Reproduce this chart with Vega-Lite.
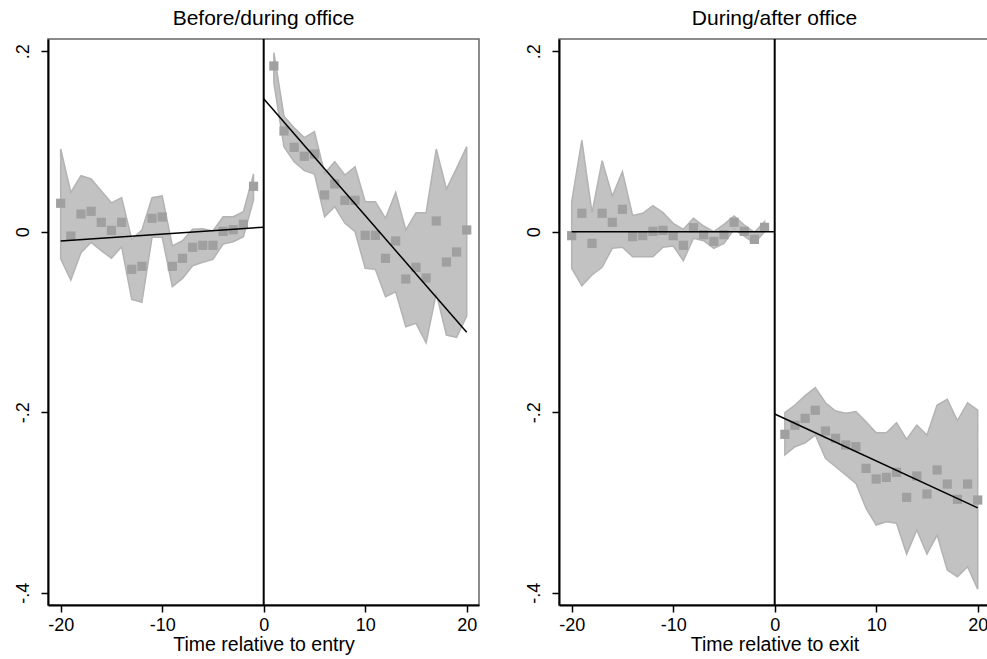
{
  "$schema": "https://vega.github.io/schema/vega-lite/v6.json",
  "padding": {"left": 13, "top": 7, "right": 0, "bottom": 0},
  "background": "white",
  "spacing": 44,
  "config": {
    "font": "Liberation Sans",
    "view": {"stroke": "#666666", "strokeWidth": 1.5},
    "title": {"font": "Liberation Sans", "fontSize": 21, "fontWeight": "normal", "color": "black", "anchor": "middle", "baseline": "alphabetic", "offset": 9},
    "axis": {
      "grid": false,
      "domainColor": "black",
      "domainWidth": 2,
      "tickColor": "black",
      "tickWidth": 1.5,
      "tickSize": 7,
      "labelFont": "Liberation Sans",
      "labelFontSize": 18,
      "labelColor": "black",
      "labelOverlap": false,
      "labelFlush": false,
      "titleFont": "Liberation Sans",
      "titleFontSize": 19.5,
      "titleFontWeight": "normal",
      "titleColor": "black"
    }
  },
  "datasets": {
    "entry": [
      {"seg": "pre", "x": -20, "est": 0.0315, "lo": -0.0302, "hi": 0.0916},
      {"seg": "pre", "x": -19, "est": -0.0048, "lo": -0.0535, "hi": 0.0436},
      {"seg": "pre", "x": -18, "est": 0.0196, "lo": -0.0232, "hi": 0.062},
      {"seg": "pre", "x": -17, "est": 0.0226, "lo": -0.0118, "hi": 0.0584},
      {"seg": "pre", "x": -16, "est": 0.0104, "lo": -0.021, "hi": 0.045},
      {"seg": "pre", "x": -15, "est": 0.0015, "lo": -0.0295, "hi": 0.032},
      {"seg": "pre", "x": -14, "est": 0.0104, "lo": -0.0166, "hi": 0.0377},
      {"seg": "pre", "x": -13, "est": -0.0417, "lo": -0.0749, "hi": -0.0085},
      {"seg": "pre", "x": -12, "est": -0.0384, "lo": -0.0782, "hi": 0.0019},
      {"seg": "pre", "x": -11, "est": 0.0148, "lo": -0.0062, "hi": 0.0377},
      {"seg": "pre", "x": -10, "est": 0.0163, "lo": -0.0062, "hi": 0.0396},
      {"seg": "pre", "x": -9, "est": -0.0384, "lo": -0.0609, "hi": -0.0158},
      {"seg": "pre", "x": -8, "est": -0.0295, "lo": -0.0517, "hi": -0.01},
      {"seg": "pre", "x": -7, "est": -0.0173, "lo": -0.0377, "hi": 0.0026},
      {"seg": "pre", "x": -6, "est": -0.0151, "lo": -0.034, "hi": 0.0033},
      {"seg": "pre", "x": -5, "est": -0.0151, "lo": -0.0306, "hi": 0.0008},
      {"seg": "pre", "x": -4, "est": 0.0004, "lo": -0.0136, "hi": 0.0166},
      {"seg": "pre", "x": -3, "est": 0.0022, "lo": -0.0111, "hi": 0.0166},
      {"seg": "pre", "x": -2, "est": 0.0082, "lo": -0.0055, "hi": 0.0222},
      {"seg": "pre", "x": -1, "est": 0.0503, "lo": 0.0351, "hi": 0.064},
      {"seg": "post", "x": 1, "est": 0.1836, "lo": 0.165, "hi": 0.1983},
      {"seg": "post", "x": 2, "est": 0.1116, "lo": 0.094, "hi": 0.128},
      {"seg": "post", "x": 3, "est": 0.0935, "lo": 0.0776, "hi": 0.1152},
      {"seg": "post", "x": 4, "est": 0.0835, "lo": 0.0676, "hi": 0.1042},
      {"seg": "post", "x": 5, "est": 0.0861, "lo": 0.0639, "hi": 0.1108},
      {"seg": "post", "x": 6, "est": 0.0407, "lo": 0.0166, "hi": 0.0647},
      {"seg": "post", "x": 7, "est": 0.0529, "lo": 0.0277, "hi": 0.0776},
      {"seg": "post", "x": 8, "est": 0.0348, "lo": 0.0093, "hi": 0.0628},
      {"seg": "post", "x": 9, "est": 0.0348, "lo": 0.0, "hi": 0.072},
      {"seg": "post", "x": 10, "est": -0.004, "lo": -0.0406, "hi": 0.0332},
      {"seg": "post", "x": 11, "est": -0.004, "lo": -0.0417, "hi": 0.0332},
      {"seg": "post", "x": 12, "est": -0.0295, "lo": -0.072, "hi": 0.0148},
      {"seg": "post", "x": 13, "est": -0.0103, "lo": -0.0665, "hi": 0.0436},
      {"seg": "post", "x": 14, "est": -0.0524, "lo": -0.1053, "hi": 0.0019},
      {"seg": "post", "x": 15, "est": -0.0395, "lo": -0.1016, "hi": 0.0211},
      {"seg": "post", "x": 16, "est": -0.0513, "lo": -0.123, "hi": 0.0211},
      {"seg": "post", "x": 17, "est": 0.0119, "lo": -0.0683, "hi": 0.0916},
      {"seg": "post", "x": 18, "est": -0.0336, "lo": -0.1145, "hi": 0.0473},
      {"seg": "post", "x": 19, "est": -0.0225, "lo": -0.1171, "hi": 0.0702},
      {"seg": "post", "x": 20, "est": 0.0019, "lo": -0.0934, "hi": 0.0942}
    ],
    "exit": [
      {"seg": "pre", "x": -20, "est": -0.0044, "lo": -0.0406, "hi": 0.0332},
      {"seg": "pre", "x": -19, "est": 0.0204, "lo": -0.06, "hi": 0.1016},
      {"seg": "pre", "x": -18, "est": -0.0129, "lo": -0.048, "hi": 0.0211},
      {"seg": "pre", "x": -17, "est": 0.0204, "lo": -0.0395, "hi": 0.0787},
      {"seg": "pre", "x": -16, "est": 0.0104, "lo": -0.0184, "hi": 0.0396},
      {"seg": "pre", "x": -15, "est": 0.0248, "lo": -0.0173, "hi": 0.0665},
      {"seg": "pre", "x": -14, "est": -0.0055, "lo": -0.0277, "hi": 0.0181},
      {"seg": "pre", "x": -13, "est": -0.0044, "lo": -0.0277, "hi": 0.0204},
      {"seg": "pre", "x": -12, "est": 0.0004, "lo": -0.0277, "hi": 0.0288},
      {"seg": "pre", "x": -11, "est": 0.0015, "lo": -0.0173, "hi": 0.0211},
      {"seg": "pre", "x": -10, "est": -0.0044, "lo": -0.0158, "hi": 0.0093},
      {"seg": "pre", "x": -9, "est": -0.0151, "lo": -0.0321, "hi": 0.0026},
      {"seg": "pre", "x": -8, "est": 0.0044, "lo": -0.0073, "hi": 0.0148},
      {"seg": "pre", "x": -7, "est": -0.0033, "lo": -0.01, "hi": 0.0063},
      {"seg": "pre", "x": -6, "est": -0.0107, "lo": -0.0184, "hi": 0.0},
      {"seg": "pre", "x": -5, "est": -0.0033, "lo": -0.0129, "hi": 0.0081},
      {"seg": "pre", "x": -4, "est": 0.0104, "lo": 0.0026, "hi": 0.0174},
      {"seg": "pre", "x": -3, "est": 0.0004, "lo": -0.0048, "hi": 0.0074},
      {"seg": "pre", "x": -2, "est": -0.0085, "lo": -0.0129, "hi": -0.0007},
      {"seg": "pre", "x": -1, "est": 0.0048, "lo": 0.0, "hi": 0.0111},
      {"seg": "post", "x": 1, "est": -0.2245, "lo": -0.2474, "hi": -0.2005},
      {"seg": "post", "x": 2, "est": -0.2145, "lo": -0.2382, "hi": -0.192},
      {"seg": "post", "x": 3, "est": -0.2068, "lo": -0.2338, "hi": -0.1817},
      {"seg": "post", "x": 4, "est": -0.1979, "lo": -0.2253, "hi": -0.1728},
      {"seg": "post", "x": 5, "est": -0.2208, "lo": -0.2511, "hi": -0.1895},
      {"seg": "post", "x": 6, "est": -0.2289, "lo": -0.2604, "hi": -0.1987},
      {"seg": "post", "x": 7, "est": -0.2363, "lo": -0.2696, "hi": -0.2012},
      {"seg": "post", "x": 8, "est": -0.2382, "lo": -0.2788, "hi": -0.1994},
      {"seg": "post", "x": 9, "est": -0.2622, "lo": -0.3065, "hi": -0.2105},
      {"seg": "post", "x": 10, "est": -0.274, "lo": -0.325, "hi": -0.2227},
      {"seg": "post", "x": 11, "est": -0.2722, "lo": -0.3213, "hi": -0.2227},
      {"seg": "post", "x": 12, "est": -0.2666, "lo": -0.3231, "hi": -0.2116},
      {"seg": "post", "x": 13, "est": -0.2943, "lo": -0.3571, "hi": -0.23},
      {"seg": "post", "x": 14, "est": -0.2707, "lo": -0.3305, "hi": -0.2142},
      {"seg": "post", "x": 15, "est": -0.2906, "lo": -0.3571, "hi": -0.2253},
      {"seg": "post", "x": 16, "est": -0.264, "lo": -0.3361, "hi": -0.192},
      {"seg": "post", "x": 17, "est": -0.2796, "lo": -0.3748, "hi": -0.1857},
      {"seg": "post", "x": 18, "est": -0.2965, "lo": -0.3823, "hi": -0.2094},
      {"seg": "post", "x": 19, "est": -0.2796, "lo": -0.3712, "hi": -0.1895},
      {"seg": "post", "x": 20, "est": -0.2973, "lo": -0.3962, "hi": -0.1976}
    ],
    "fitEntry": [
      {"seg": "pre", "x": -20, "fit": -0.0103},
      {"seg": "pre", "x": 0, "fit": 0.005},
      {"seg": "post", "x": 0, "fit": 0.1473},
      {"seg": "post", "x": 20, "fit": -0.1115}
    ],
    "fitExit": [
      {"seg": "pre", "x": -20, "fit": 0.0},
      {"seg": "pre", "x": 0, "fit": 0.0},
      {"seg": "post", "x": 0, "fit": -0.202},
      {"seg": "post", "x": 20, "fit": -0.306}
    ],
    "zeroLine": [
      {"x": 0}
    ]
  },
  "hconcat": [
    {
      "width": 431,
      "height": 566,
      "title": "Before/during office",
      "layer": [
        {
          "data": {"name": "entry"},
          "mark": {"type": "area", "color": "#c2c2c2", "stroke": "#b3b3b3", "strokeWidth": 1.5, "opacity": 1},
          "encoding": {
            "x": {"field": "x", "type": "quantitative", "scale": {"domain": [-21.25, 21.21], "nice": false, "zero": false},
              "axis": {"values": [-20, -10, 0, 10, 20], "title": "Time relative to entry", "labelPadding": 4, "titlePadding": 1,
                "labelExpr": "datum.value < 0 ? '-' + abs(datum.value) : '' + datum.value"}},
            "y": {"field": "lo", "type": "quantitative", "scale": {"domain": [-0.4136, 0.2135], "nice": false, "zero": false},
              "axis": {"values": [-0.4, -0.2, 0, 0.2], "title": null, "labelAngle": -90, "labelAlign": "center", "labelBaseline": "alphabetic", "labelPadding": 12.5,
                "labelExpr": "datum.value == 0 ? '0' : (datum.value < 0 ? '-' : '') + '.' + abs(round(datum.value * 10))"}},
            "y2": {"field": "hi"},
            "detail": {"field": "seg"}
          }
        },
        {
          "data": {"name": "entry"},
          "mark": {"type": "point", "shape": "square", "filled": true, "size": 85, "color": "#a0a0a0", "opacity": 1},
          "encoding": {
            "x": {"field": "x", "type": "quantitative"},
            "y": {"field": "est", "type": "quantitative"}
          }
        },
        {
          "data": {"name": "fitEntry"},
          "mark": {"type": "line", "color": "black", "strokeWidth": 1.5},
          "encoding": {
            "x": {"field": "x", "type": "quantitative"},
            "y": {"field": "fit", "type": "quantitative"},
            "detail": {"field": "seg"}
          }
        },
        {
          "data": {"name": "zeroLine"},
          "mark": {"type": "rule", "color": "black", "strokeWidth": 2},
          "encoding": {"x": {"field": "x", "type": "quantitative"}}
        }
      ]
    },
    {
      "width": 431,
      "height": 566,
      "title": "During/after office",
      "layer": [
        {
          "data": {"name": "exit"},
          "mark": {"type": "area", "color": "#c2c2c2", "stroke": "#b3b3b3", "strokeWidth": 1.5, "opacity": 1},
          "encoding": {
            "x": {"field": "x", "type": "quantitative", "scale": {"domain": [-21.25, 21.21], "nice": false, "zero": false},
              "axis": {"values": [-20, -10, 0, 10, 20], "title": "Time relative to exit", "labelPadding": 4, "titlePadding": 1,
                "labelExpr": "datum.value < 0 ? '-' + abs(datum.value) : '' + datum.value"}},
            "y": {"field": "lo", "type": "quantitative", "scale": {"domain": [-0.4136, 0.2135], "nice": false, "zero": false},
              "axis": {"values": [-0.4, -0.2, 0, 0.2], "title": null, "labelAngle": -90, "labelAlign": "center", "labelBaseline": "alphabetic", "labelPadding": 12.5,
                "labelExpr": "datum.value == 0 ? '0' : (datum.value < 0 ? '-' : '') + '.' + abs(round(datum.value * 10))"}},
            "y2": {"field": "hi"},
            "detail": {"field": "seg"}
          }
        },
        {
          "data": {"name": "exit"},
          "mark": {"type": "point", "shape": "square", "filled": true, "size": 85, "color": "#a0a0a0", "opacity": 1},
          "encoding": {
            "x": {"field": "x", "type": "quantitative"},
            "y": {"field": "est", "type": "quantitative"}
          }
        },
        {
          "data": {"name": "fitExit"},
          "mark": {"type": "line", "color": "black", "strokeWidth": 1.5},
          "encoding": {
            "x": {"field": "x", "type": "quantitative"},
            "y": {"field": "fit", "type": "quantitative"},
            "detail": {"field": "seg"}
          }
        },
        {
          "data": {"name": "zeroLine"},
          "mark": {"type": "rule", "color": "black", "strokeWidth": 2},
          "encoding": {"x": {"field": "x", "type": "quantitative"}}
        }
      ]
    }
  ]
}
